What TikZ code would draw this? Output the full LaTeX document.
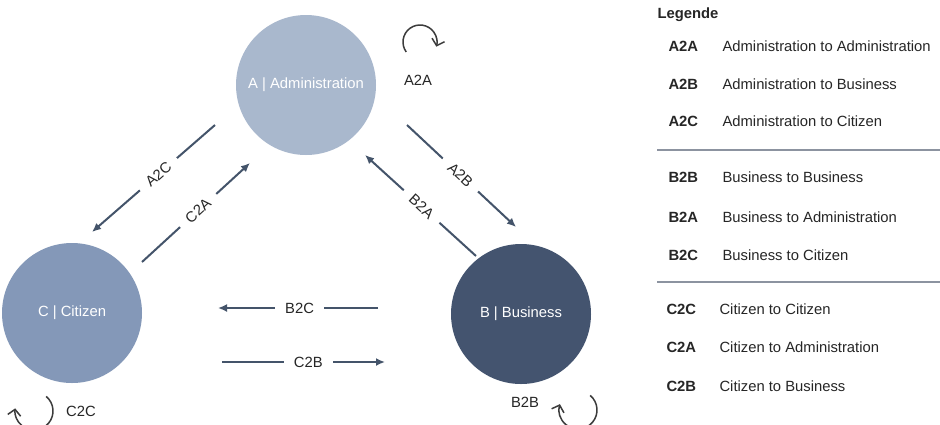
\documentclass[tikz,border=0pt]{standalone}
\usepackage{fontspec}
\setmainfont{Liberation Sans}
\usetikzlibrary{arrows.meta,positioning}

\definecolor{admc}{HTML}{A9B8CD}
\definecolor{citc}{HTML}{8498B8}
\definecolor{busc}{HTML}{44546F}
\definecolor{flowc}{HTML}{44546A}
\definecolor{txtc}{HTML}{262626}
\definecolor{sepc}{HTML}{8C93A0}

\newcommand{\diafont}{\fontsize{14.8}{17}\selectfont}

\tikzset{
  actor/.style={circle, minimum size=140pt, inner sep=0pt, text=white},
  flow/.style={draw=flowc, line width=2pt, -{Latex[length=9pt,width=8pt]}},
  lbl/.style={fill=white, text=txtc, inner xsep=10pt, inner ysep=1pt},
  selfloop/.style={draw=txtc!90, line width=1.5pt, -{Straight Barb[length=6pt,width=13pt]}},
  code/.style={anchor=west, text=txtc, font=\diafont\bfseries},
  desc/.style={anchor=west, text=txtc},
  sepline/.style={draw=sepc, line width=2pt}
}

\begin{document}
\begin{tikzpicture}[x=1pt, y=-1pt, font=\diafont]
  \clip (0,0) rectangle (940,424);
  \fill[white] (0,0) rectangle (940,424);

  % actors
  \node[actor, fill=admc] (adm) at (306,85) {A | Administration};
  \node[actor, fill=citc] (cit) at (72,313) {C | Citizen};
  \node[actor, fill=busc] (bus) at (521,314) {B | Business};

  % free ends of the flows
  \coordinate (a2cS) at (215,125);  \coordinate (a2cE) at (92,232);
  \coordinate (c2aS) at (142,262);  \coordinate (c2aE) at (250,163);
  \coordinate (a2bS) at (407,125);  \coordinate (a2bE) at (516,227);
  \coordinate (b2aS) at (476,256);  \coordinate (b2aE) at (365,155);
  \coordinate (b2cS) at (378,308);  \coordinate (b2cE) at (218,308);
  \coordinate (c2bS) at (222,362);  \coordinate (c2bE) at (385,362);

  \draw[flow] (a2cS) -- node[lbl, sloped, pos=0.46] {A2C} (a2cE);
  \draw[flow] (c2aS) -- node[lbl, sloped, pos=0.52] {C2A} (c2aE);
  \draw[flow] (a2bS) -- node[lbl, sloped, pos=0.49] {A2B} (a2bE);
  \draw[flow] (b2aS) -- node[lbl, sloped, pos=0.49] {B2A} (b2aE);
  \draw[flow] (b2cS) -- node[lbl, pos=0.49] {B2C} (b2cE);
  \draw[flow] (c2bS) -- node[lbl, pos=0.53] {C2B} (c2bE);

  % loops
  \coordinate (a2aC) at (420,42);
  \coordinate (c2cC) at (34,411);
  \coordinate (b2bC) at (578,410);
  \draw[selfloop] (a2aC) ++(144:17) arc[start angle=144, end angle=376, radius=17];
  \draw[selfloop] (c2cC) ++(-50:19) arc[start angle=-50, end angle=188, radius=19];
  \draw[selfloop] (b2bC) ++(-50:19) arc[start angle=-50, end angle=198, radius=19];
  \node[text=txtc] (a2aL) at (418,80) {A2A};
  \node[text=txtc] (c2cL) at (81,411) {C2C};
  \node[text=txtc] (b2bL) at (525,402) {B2B};

  % legend
  \node[code] (leg) at (654,15) {Legende};
  \node[code] (kA2A) at (665,46) {A2A};   \node[desc] (dA2A) at (719,46) {Administration to Administration};
  \node[code] (kA2B) at (665,84) {A2B};   \node[desc] (dA2B) at (719,84) {Administration to Business};
  \node[code] (kA2C) at (665,121) {A2C};  \node[desc] (dA2C) at (719,121) {Administration to Citizen};
  \draw[sepline] (657,150) -- (940,150);
  \node[code] (kB2B) at (665,177) {B2B};  \node[desc] (dB2B) at (719,177) {Business to Business};
  \node[code] (kB2A) at (665,217) {B2A};  \node[desc] (dB2A) at (719,217) {Business to Administration};
  \node[code] (kB2C) at (665,255) {B2C};  \node[desc] (dB2C) at (719,255) {Business to Citizen};
  \draw[sepline] (657,282) -- (940,282);
  \node[code] (kC2C) at (663,309) {C2C};  \node[desc] (dC2C) at (716,309) {Citizen to Citizen};
  \node[code] (kC2A) at (663,347) {C2A};  \node[desc] (dC2A) at (716,347) {Citizen to Administration};
  \node[code] (kC2B) at (663,386) {C2B};  \node[desc] (dC2B) at (716,386) {Citizen to Business};
\end{tikzpicture}
\end{document}
